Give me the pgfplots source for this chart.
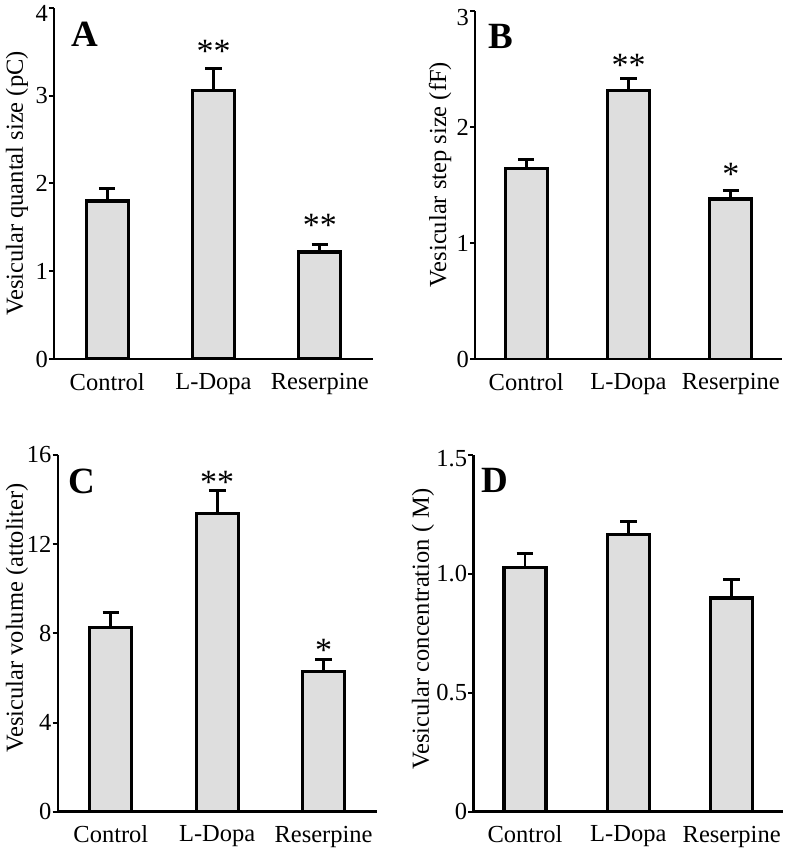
\documentclass[border=0pt]{standalone}
\usepackage{fontspec}
\setmainfont{Liberation Serif}
\usepackage{pgfplots}
\pgfplotsset{compat=1.18}
\definecolor{barfill}{RGB}{222,222,222}
\pgfplotsset{
 panel/.style={
  scale only axis, anchor=south west,
  axis x line=bottom, axis y line=left,
  axis line style={line width=2.4pt,-},
  xmin=-0.5, xmax=2.5, ymin=0,
  xtick={0,1,2}, xticklabels={Control,L-Dopa,Reserpine},
  tick align=outside,
  major tick length=5pt,
  xtick style={draw=none},
  ytick style={line width=2pt,black},
  tick label style={font=\fontsize{24.5}{28}\selectfont},
  label style={font=\fontsize{24.5}{28}\selectfont},
  /pgf/number format/assume math mode=true,
  xticklabel style={inner sep=0pt, anchor=north, yshift=-9pt},
  yticklabel style={inner sep=0pt, anchor=east, xshift=-1pt},
  ylabel style={anchor=center},
  bar width=42pt,
 },
 bars/.style={ybar, draw=black, line width=3.2pt, fill=barfill, bar shift=0pt,
   error bars/.cd, y dir=plus, y explicit,
   error bar style={line width=2.8pt, black},
   error mark options={rotate=90, mark size=8.3pt, line width=3pt, black}},
}
\tikzset{star/.style={anchor=north, inner sep=0pt, font=\fontsize{34}{36}\selectfont},
 letter/.style={anchor=north west, inner sep=0pt, font=\fontsize{37}{40}\selectfont\bfseries}}
\begin{document}
\begin{tikzpicture}
\useasboundingbox (0,0) rectangle (792pt,853pt);
% Panel A
\begin{axis}[panel, at={(54pt,494pt)}, width=319pt, height=351pt, ymax=4,
  ytick={0,1,2,3}, extra y ticks={4},
  extra y tick style={yticklabel style={yshift=-5pt}},
  ylabel={Vesicular quantal size (pC)},
  ylabel style={at={(axis description cs:-0.116,0.5)}}]
\addplot[bars] coordinates {(0,1.80) +- (0,0.14) (1,3.06) +- (0,0.25) (2,1.22) +- (0,0.09)};
\node[star] at (axis cs:1,3.63) {**};
\node[star] at (axis cs:2,1.65) {**};
\end{axis}
% Panel B
\begin{axis}[panel, at={(475pt,493.7pt)}, width=307pt, height=348.6pt, ymax=3,
  ytick={0,1,2}, extra y ticks={3},
  extra y tick style={yticklabel style={yshift=-7pt}},
  ylabel={Vesicular step size (fF)},
  ylabel style={at={(axis description cs:-0.114,0.53)}}]
\addplot[bars] coordinates {(0,1.64) +- (0,0.08) (1,2.31) +- (0,0.11) (2,1.38) +- (0,0.07)};
\node[star] at (axis cs:1,2.63) {**};
\node[star] at (axis cs:2,1.69) {*};
\end{axis}
% Panel C
\begin{axis}[panel, at={(57.7pt,41.3pt)}, width=319pt, height=356.7pt, ymax=16,
  ytick={0,4,8,12,16}, ylabel={Vesicular volume (attoliter)},
  ylabel style={at={(axis description cs:-0.128,0.543)}}]
\addplot[bars] coordinates {(0,8.25) +- (0,0.69) (1,13.36) +- (0,1.05) (2,6.30) +- (0,0.52)};
\node[star] at (axis cs:1,15.28) {**};
\node[star] at (axis cs:2,7.73) {*};
\end{axis}
% Panel D
\begin{axis}[panel, at={(473.3pt,41.3pt)}, width=310pt, height=356.7pt, ymax=1.5,
  ytick={0,0.5,1}, yticklabels={0,0.5,1.0},
  extra y ticks={1.5}, extra y tick labels={1.5},
  extra y tick style={yticklabel style={yshift=-4pt}},
  ylabel={Vesicular concentration ( M)},
  ylabel style={at={(axis description cs:-0.162,0.512)}}]
\addplot[bars] coordinates {(0,1.028) +- (0,0.056) (1,1.167) +- (0,0.053) (2,0.899) +- (0,0.078)};
\end{axis}
\node[letter] at (71pt,831.3pt) {A};
\node[letter] at (488pt,828.7pt) {B};
\node[letter] at (68.3pt,383.7pt) {C};
\node[letter] at (481.7pt,384.7pt) {D};
\end{tikzpicture}
\end{document}
